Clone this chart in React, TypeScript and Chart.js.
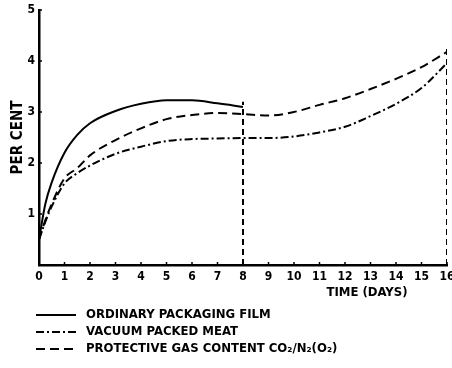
import React, { useEffect, useRef } from "react";
import { Chart, registerables } from "chart.js";

Chart.register(...registerables);

const ordinaryDays = [0, 0.25, 0.5, 1, 1.5, 2, 3, 4, 5, 6, 7, 8];
const ordinaryValues = [0.5, 1.2, 1.62, 2.2, 2.55, 2.78, 3.02, 3.16, 3.23, 3.23, 3.17, 3.1];

const longDays = [0, 0.25, 0.5, 1, 1.5, 2, 3, 4, 5, 6, 7, 8, 9, 10, 11, 12, 13, 14, 15, 16];
const vacuumValues = [0.5, 0.85, 1.15, 1.6, 1.8, 1.95, 2.18, 2.32, 2.43, 2.47, 2.48, 2.49, 2.49, 2.52, 2.6, 2.71, 2.92, 3.16, 3.47, 3.96];
const protectiveValues = [0.5, 0.88, 1.2, 1.7, 1.9, 2.15, 2.45, 2.68, 2.86, 2.94, 2.98, 2.96, 2.93, 3.0, 3.14, 3.27, 3.45, 3.65, 3.88, 4.18];

const guide8Days = [8, 8];
const guide8Values = [0, 3.2];
const guide16Days = [16, 16];
const guide16Values = [0, 4.3];

const xTicks = [0, 1, 2, 3, 4, 5, 6, 7, 8, 9, 10, 11, 12, 13, 14, 15, 16];
const yTicks = [0, 1, 2, 3, 4, 5];

const seriesLabels = ["ORDINARY PACKAGING FILM", "VACUUM PACKED MEAT", "PROTECTIVE GAS CONTENT CO\u2082/N\u2082(O\u2082)"];
const yTitle = "PER CENT";
const xTitle = "TIME (DAYS)";

const FONT = "'Liberation Sans Narrow', 'DejaVu Sans Condensed', 'Liberation Sans', sans-serif";
const DASH_DOT = [8, 3, 2, 3];
const DASHED = [9, 5];

const toPoints = (xs: number[], ys: number[]) => xs.map((x, i) => ({ x, y: ys[i] }));

const decorPlugin = {
  id: "decor",
  afterDraw(chart: any) {
    const { ctx, scales } = chart;
    const xs = scales.x;
    const ys = scales.y;
    const base = ys.getPixelForValue(0);
    const left = xs.getPixelForValue(0);
    ctx.save();
    ctx.strokeStyle = "#000";
    ctx.lineWidth = 1.5;
    ctx.setLineDash([]);
    xTicks.forEach((t) => {
      if (t === 0) return;
      const px = xs.getPixelForValue(t);
      ctx.beginPath();
      ctx.moveTo(px, base);
      ctx.lineTo(px, base - 3);
      ctx.stroke();
    });
    yTicks.forEach((t) => {
      if (t === 0) return;
      const py = ys.getPixelForValue(t);
      ctx.beginPath();
      ctx.moveTo(left, py);
      ctx.lineTo(left + 3, py);
      ctx.stroke();
    });
    ctx.fillStyle = "#000";
    ctx.font = `bold 13px ${FONT}`;
    ctx.textAlign = "center";
    ctx.textBaseline = "middle";
    ctx.fillText(xTitle, 367, 293);

    const dashes = [[], DASH_DOT, DASHED];
    const rows = [315, 332, 349];
    ctx.textAlign = "left";
    dashes.forEach((d, i) => {
      ctx.lineWidth = 2;
      ctx.setLineDash(d as number[]);
      ctx.beginPath();
      ctx.moveTo(36, rows[i]);
      ctx.lineTo(76, rows[i]);
      ctx.stroke();
      ctx.setLineDash([]);
      ctx.fillText(seriesLabels[i], 86, rows[i]);
    });
    ctx.restore();
  },
};

export default function App() {
  const ref = useRef<HTMLCanvasElement | null>(null);
  useEffect(() => {
    document.body.style.margin = "0";
    const canvas = ref.current;
    if (!canvas) return;
    const line = (data: any, dash: number[], label: string) => ({
      label,
      data,
      borderColor: "#000",
      borderWidth: 2,
      borderDash: dash,
      pointRadius: 0,
      fill: false,
      cubicInterpolationMode: "monotone",
      tension: 0.4,
    });
    const chart = new Chart(canvas, {
      type: "line",
      data: {
        datasets: [
          line(toPoints(ordinaryDays, ordinaryValues), [], seriesLabels[0]),
          line(toPoints(longDays, vacuumValues), DASH_DOT, seriesLabels[1]),
          line(toPoints(longDays, protectiveValues), DASHED, seriesLabels[2]),
          { ...line(toPoints(guide8Days, guide8Values), [6, 4], "g8"), cubicInterpolationMode: "default", tension: 0 },
          { ...line(toPoints(guide16Days, guide16Values), [6, 4], "g16"), cubicInterpolationMode: "default", tension: 0 },
        ] as any,
      },
      options: {
        responsive: false,
        animation: false,
        layout: { padding: { top: 10, right: 5, left: 0, bottom: 0 } },
        plugins: { legend: { display: false }, tooltip: { enabled: false } },
        scales: {
          x: {
            type: "linear",
            min: 0,
            max: 16,
            afterBuildTicks: (s: any) => {
              s.ticks = xTicks.map((v) => ({ value: v }));
            },
            afterFit: (s: any) => {
              s.height = 103;
              s.paddingLeft = 0;
              s.paddingRight = 0;
            },
            grid: { display: true, drawOnChartArea: false, drawTicks: false },
            border: { display: true, color: "#000", width: 2.5 },
            ticks: {
              color: "#000",
              padding: 5,
              maxRotation: 0,
              autoSkip: false,
              font: { family: FONT, size: 12, weight: "bold" },
            },
          },
          y: {
            type: "linear",
            min: 0,
            max: 5,
            afterBuildTicks: (s: any) => {
              s.ticks = yTicks.map((v) => ({ value: v }));
            },
            afterFit: (s: any) => {
              s.width = 39;
              s.paddingTop = 0;
              s.paddingBottom = 0;
            },
            grid: { display: true, drawOnChartArea: false, drawTicks: false },
            border: { display: true, color: "#000", width: 2.5 },
            title: {
              display: true,
              text: yTitle,
              color: "#000",
              padding: { top: 9, bottom: 0 },
              font: { family: FONT, size: 15, weight: "bold" },
            },
            ticks: {
              color: "#000",
              padding: 4,
              callback: (v: any) => (v === 0 ? "" : String(v)),
              font: { family: FONT, size: 12, weight: "bold" },
            },
          },
        },
      } as any,
      plugins: [decorPlugin],
    });
    return () => chart.destroy();
  }, []);
  return <canvas ref={ref} width={452} height={368} style={{ display: "block" }} />;
}
